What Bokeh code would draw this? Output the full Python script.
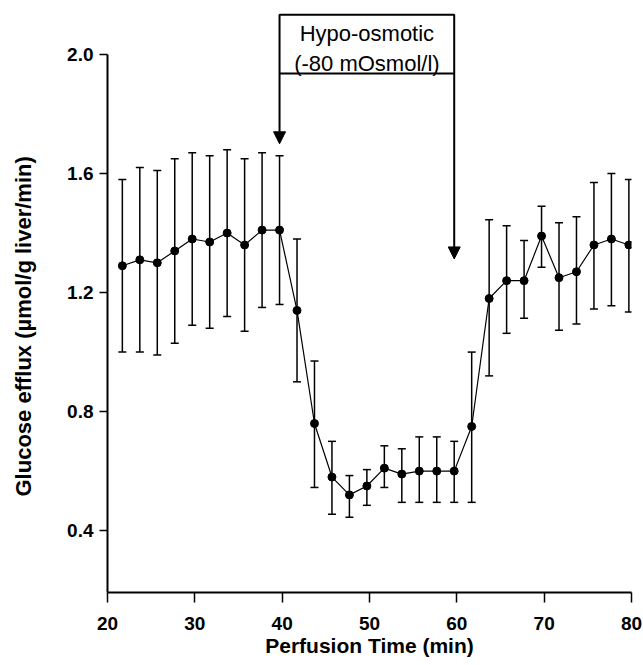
import math
from bokeh.plotting import figure
from bokeh.models import (ColumnDataSource, Whisker, TeeHead, Arrow, NormalHead,
                          FixedTicker, NumeralTickFormatter, Title)
from bokeh.core.properties import value
from bokeh.embed import file_html
from bokeh.resources import INLINE

# ---- data ----
time_min = [21.7, 23.7, 25.7, 27.7, 29.7, 31.7, 33.7, 35.7, 37.7, 39.7,
            41.7, 43.7, 45.7, 47.7, 49.7, 51.7, 53.7, 55.7, 57.7, 59.7,
            61.7, 63.7, 65.7, 67.7, 69.7, 71.7, 73.7, 75.7, 77.7, 79.7]
efflux_mean = [1.29, 1.31, 1.30, 1.34, 1.38, 1.37, 1.40, 1.36, 1.41, 1.41,
               1.14, 0.76, 0.58, 0.52, 0.55, 0.61, 0.59, 0.60, 0.60, 0.60,
               0.75, 1.18, 1.24, 1.24, 1.39, 1.25, 1.27, 1.36, 1.38, 1.36]
efflux_upper = [1.58, 1.62, 1.61, 1.65, 1.67, 1.66, 1.68, 1.65, 1.67, 1.66,
                1.38, 0.97, 0.70, 0.585, 0.605, 0.685, 0.675, 0.715, 0.715, 0.70,
                1.00, 1.445, 1.425, 1.375, 1.49, 1.435, 1.455, 1.57, 1.60, 1.58]
efflux_lower = [1.00, 1.00, 0.99, 1.03, 1.09, 1.08, 1.12, 1.07, 1.15, 1.16,
                0.90, 0.545, 0.455, 0.445, 0.485, 0.545, 0.495, 0.495, 0.495, 0.495,
                0.495, 0.92, 1.063, 1.114, 1.285, 1.073, 1.094, 1.145, 1.156, 1.135]

x_ticks = [20, 30, 40, 50, 60, 70, 80]
y_ticks = [0.4, 0.8, 1.2, 1.6, 2.0]

# hypo-osmotic period annotation
stim_start = 39.7
stim_end = 59.7
box_top = 2.134
box_bottom = 1.936
label_lines = ["Hypo-osmotic", "(-80 mOsmol/l)"]
label_y = [2.072, 1.969]
arrow_tips = [1.70, 1.313]

x_lo, x_hi = 20, 80
y_lo, y_hi = 0.192, 2.148
y_axis_top = 2.0

FONT = "Liberation Sans"

src = ColumnDataSource(dict(x=time_min, y=efflux_mean,
                            upper=efflux_upper, lower=efflux_lower))

p = figure(width=643, height=665, output_backend="svg", toolbar_location=None,
           x_range=(x_lo, x_hi), y_range=(y_lo, y_hi),
           min_border_left=107, min_border_right=12, min_border_top=10,
           min_border_bottom=73)
p.outline_line_color = None
p.grid.visible = False
p.background_fill_color = "white"
p.border_fill_color = "white"

# axes
for ax in (p.xaxis[0], p.yaxis[0]):
    ax.axis_line_width = 2
    ax.axis_line_color = "black"
    ax.major_tick_line_width = 1.5
    ax.major_tick_line_color = "black"
    ax.major_tick_in = 0
    ax.minor_tick_line_color = None
    ax.major_label_text_font = FONT
    ax.major_label_text_font_size = "19px"
    ax.major_label_text_font_style = "bold"
    ax.major_label_text_color = "black"

p.xaxis.ticker = FixedTicker(ticks=x_ticks)
p.xaxis.major_tick_out = 10
p.xaxis.major_label_standoff = 14
p.xaxis.axis_label = "Perfusion Time (min)"
p.xaxis.axis_label_text_font = FONT
p.xaxis.axis_label_text_font_size = "21px"
p.xaxis.axis_label_text_font_style = "bold"
p.xaxis.axis_label_text_color = "black"
p.xaxis.axis_label_standoff = 1

p.yaxis.ticker = FixedTicker(ticks=y_ticks)
p.yaxis.formatter = NumeralTickFormatter(format="0.0")
p.yaxis.major_tick_out = 8
p.yaxis.major_label_standoff = 6
p.yaxis.bounds = (y_lo, y_axis_top)

# spacing between the tick labels and the y-axis title
p.add_layout(Title(text=" ", standoff=0, text_font=FONT, text_font_size="19px"), "left")
# y-axis title as a side-panel title, shifted to sit beside the drawn axis
p.add_layout(Title(text="Glucose efflux (\u00b5mol/g liver/min)", align="left",
                   offset=96, vertical_align="middle",
                   text_font=FONT, text_font_size="22px", text_font_style="bold",
                   text_color="black"), "left")

# data
p.line("x", "y", source=src, line_color="black", line_width=1.2)
p.add_layout(Whisker(base="x", upper="upper", lower="lower", source=src,
                     line_color="black", line_width=1.5,
                     upper_head=TeeHead(size=8, line_color="black", line_width=1.5),
                     lower_head=TeeHead(size=8, line_color="black", line_width=1.5)))
p.scatter("x", "y", source=src, marker="circle", size=8,
          fill_color="black", line_color="black")

# annotation box with arrows
p.quad(left=[stim_start], right=[stim_end], top=[box_top], bottom=[box_bottom],
       fill_color="white", line_color="black", line_width=2)
mid = (stim_start + stim_end) / 2
p.text(x=[mid, mid], y=label_y, text=label_lines, text_align="center",
       text_baseline="middle", text_font=value(FONT), text_font_size="22px",
       text_color="black")
for xs, tip in zip([stim_start, stim_end], arrow_tips):
    p.add_layout(Arrow(x_start=xs, y_start=box_bottom, x_end=xs, y_end=tip,
                       line_width=2, line_color="black",
                       end=NormalHead(size=12, fill_color="black",
                                      line_color="black", line_width=1)))

open("out.html", "w").write(file_html(p, INLINE))
